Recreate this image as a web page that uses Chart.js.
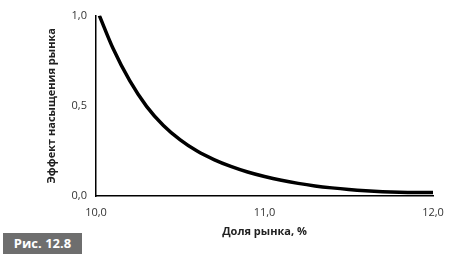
<!DOCTYPE html>
<html>
<head>
<meta charset="utf-8">
<script src="https://cdn.jsdelivr.net/npm/chart.js@4"></script>
<style>
  html, body { margin: 0; padding: 0; background: #fff; }
  .wrap { position: relative; width: 456px; height: 263px; }
  .fig {
    position: absolute; left: 3px; top: 233px; width: 79px; height: 21px;
    background: #6e6e6e; color: #fff; font: bold 13px 'Open Sans', sans-serif;
    line-height: 21px; text-align: center;
  }
</style>
</head>
<body>
<div class="wrap">
  <canvas id="chart" width="456" height="263"></canvas>
  <div class="fig">Рис. 12.8</div>
</div>
<script>
// market share, % and the saturation effect
const share = [10.02, 10.1, 10.2, 10.3, 10.4, 10.5, 10.6, 10.7, 10.8, 10.9, 11.0,
  11.1, 11.2, 11.3, 11.4, 11.5, 11.6, 11.7, 11.8, 11.9, 12.0];
const effect = [1.0, 0.82, 0.639, 0.497, 0.391, 0.311, 0.249, 0.202, 0.164, 0.133, 0.108,
  0.087, 0.070, 0.056, 0.045, 0.036, 0.029, 0.024, 0.021, 0.020, 0.020];
const xTickValues = [10, 11, 12];
const xTickLabels = ['10,0', '11,0', '12,0'];
const yTickValues = [0, 0.5, 1];
const yTickLabels = ['0,0', '0,5', '1,0'];

const font = "'Open Sans', sans-serif";

const ctx = document.getElementById('chart').getContext('2d');
new Chart(ctx, {
  type: 'line',
  data: {
    datasets: [{
      data: share.map((x, i) => ({ x: x, y: effect[i] })),
      borderColor: '#000',
      borderWidth: 3.5,
      pointRadius: 0,
      cubicInterpolationMode: 'monotone',
      fill: false,
    }]
  },
  options: {
    responsive: false,
    animation: false,
    layout: {
      padding: { left: 41, right: 23, top: 10, bottom: 21 }
    },
    plugins: {
      legend: { display: false },
      tooltip: { enabled: false },
    },
    scales: {
      x: {
        type: 'linear',
        min: 10,
        max: 12,
        grid: { display: false, drawTicks: false },
        border: { color: '#000', width: 1.5 },
        afterBuildTicks: s => { s.ticks = xTickValues.map(v => ({ value: v })); },
        ticks: {
          padding: 10,
          color: '#333',
          font: { family: font, size: 11 },
          callback: v => xTickLabels[xTickValues.indexOf(v)],
        },
        title: {
          display: true,
          text: 'Доля рынка, %',
          color: '#222',
          font: { family: font, size: 11, weight: 'bold' },
          padding: { top: 6, bottom: 4 },
        },
        afterFit: s => { s.height = 46; },
      },
      y: {
        min: 0,
        max: 1,
        grid: { display: false, drawTicks: false },
        border: { color: '#000', width: 1.5 },
        afterBuildTicks: s => { s.ticks = yTickValues.map(v => ({ value: v })); },
        ticks: {
          padding: 9,
          color: '#333',
          font: { family: font, size: 11 },
          callback: v => yTickLabels[yTickValues.indexOf(v)],
        },
        title: {
          display: true,
          text: 'Эффект насыщения рынка',
          color: '#222',
          font: { family: font, size: 11, weight: 'bold' },
          padding: { top: 4, bottom: 0 },
        },
        afterFit: s => { s.width = 55; },
      },
    },
  },
});
</script>
</body>
</html>
